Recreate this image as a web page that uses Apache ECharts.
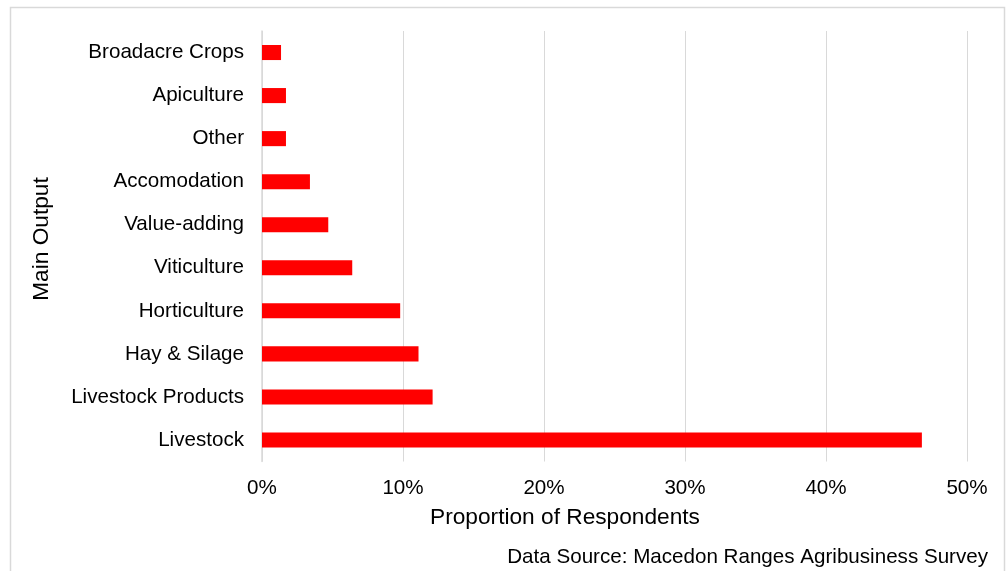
<!DOCTYPE html>
<html>
<head>
<meta charset="utf-8">
<style>
  html, body { margin: 0; padding: 0; background: #ffffff; }
  #chart { width: 1007px; height: 571px; }
</style>
<script src="https://cdn.jsdelivr.net/npm/echarts@6/dist/echarts.min.js"></script>
</head>
<body>
<div id="chart"></div>
<script>
// Main output categories, listed bottom to top
const categories = [
  'Livestock', 'Livestock Products', 'Hay & Silage', 'Horticulture',
  'Viticulture', 'Value-adding', 'Accomodation', 'Other',
  'Apiculture', 'Broadacre Crops'
];
// Share of respondents (%) for each category
const shares = [46.8, 12.1, 11.1, 9.8, 6.4, 4.7, 3.4, 1.7, 1.7, 1.35];
// Value axis ticks (%)
const tickValues = [0, 10, 20, 30, 40, 50];

const xTitle = 'Proportion of Respondents';
const yTitle = 'Main Output';
const sourceNote = 'Data Source: Macedon Ranges Agribusiness Survey';

const font = '"Liberation Sans", Arial, sans-serif';
const labelSize = 20.6;
const titleSize = 22.7;
const chart = echarts.init(document.getElementById('chart'));

chart.setOption({
  animation: false,
  backgroundColor: '#ffffff',
  textStyle: { fontFamily: font },
  grid: { left: 262, right: 40, top: 31, bottom: 109.5, containLabel: false },
  xAxis: {
    type: 'value',
    min: tickValues[0],
    max: tickValues[tickValues.length - 1],
    interval: tickValues[1] - tickValues[0],
    axisLine: { show: false },
    axisTick: { show: false },
    splitLine: { show: true, lineStyle: { color: '#d9d9d9', width: 1 } },
    axisLabel: {
      color: '#000000', fontSize: labelSize, fontFamily: font, margin: 16,
      formatter: v => v + '%'
    }
  },
  yAxis: {
    type: 'category',
    data: categories,
    axisLine: { show: true, lineStyle: { color: '#d9d9d9', width: 1.5 } },
    axisTick: { show: false },
    splitLine: { show: false },
    axisLabel: { color: '#000000', fontSize: labelSize, fontFamily: font, margin: 18 }
  },
  series: [{
    type: 'bar',
    data: shares,
    barWidth: '35%',
    itemStyle: { color: '#ff0000' }
  }],
  graphic: [
    {
      type: 'rect', silent: true, z: -1,
      shape: { x: 10.5, y: 7.5, width: 994, height: 580 },
      style: { fill: 'none', stroke: '#d9d9d9', lineWidth: 1.5 }
    },
    {
      type: 'text', x: 565, y: 518,
      style: {
        text: xTitle, fill: '#000000', font: titleSize + 'px ' + font,
        textAlign: 'center', textVerticalAlign: 'middle'
      }
    },
    {
      type: 'text', x: 42, y: 239, rotation: Math.PI / 2,
      style: {
        text: yTitle, fill: '#000000', font: titleSize + 'px ' + font,
        textAlign: 'center', textVerticalAlign: 'middle'
      }
    },
    {
      type: 'text', x: 988, y: 557,
      style: {
        text: sourceNote, fill: '#000000', font: labelSize + 'px ' + font,
        textAlign: 'right', textVerticalAlign: 'middle'
      }
    }
  ]
});
</script>
</body>
</html>
